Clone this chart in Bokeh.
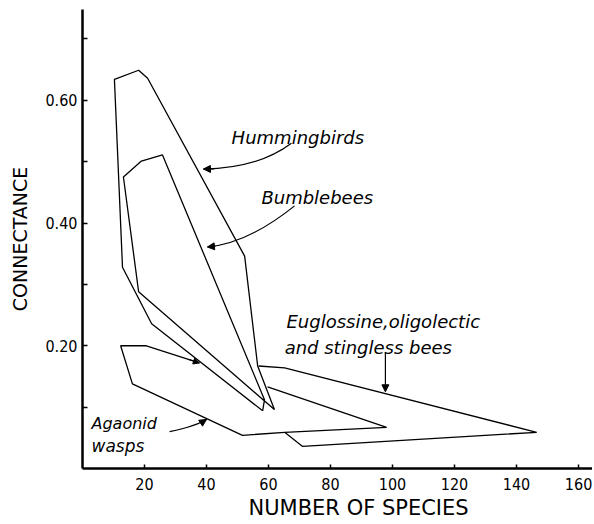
from bokeh.plotting import figure
from bokeh.models import Range1d, FixedTicker, Label, Arrow, NormalHead, PrintfTickFormatter, Title
from bokeh.embed import file_html
from bokeh.resources import INLINE

# ---- data ----
hum_x = [58.1, 22.3, 12.9, 10.3, 18.1, 21.0, 52.3, 56.5, 61.9]
hum_y = [0.094, 0.236, 0.328, 0.634, 0.649, 0.636, 0.346, 0.167, 0.096]
bee_x = [61.9, 18.1, 13.2, 19.0, 25.8, 58.7, 58.1]
bee_y = [0.096, 0.288, 0.475, 0.501, 0.511, 0.112, 0.094]
aga_x = [37.7, 20.6, 12.3, 16.1, 51.6, 65.2, 98.1, 59.7]
aga_y = [0.172, 0.200, 0.200, 0.138, 0.054, 0.059, 0.067, 0.133]
eug_x = [56.8, 65.2, 146.5, 71.0, 65.2]
eug_y = [0.167, 0.164, 0.059, 0.036, 0.059]

x_ticks = [20, 40, 60, 80, 100, 120, 140, 160]
y_major = [0.2, 0.4, 0.6]
y_minor = [0.1, 0.3, 0.5, 0.7]

labels = ["Hummingbirds", "Bumblebees", "Euglossine,oligolectic", "and stingless  bees", "Agaonid", "wasps"]
label_x = [48.1, 57.7, 65.8, 65.2, 2.9, 2.9]
label_y = [0.540, 0.442, 0.239, 0.198, 0.073, 0.037]
label_size = ["18px", "18px", "18px", "18px", "16px", "17px"]

# curved pointer arrows: start, control, tip
arr_x0 = [67.4, 68.4, 28.1]
arr_y0 = [0.530, 0.428, 0.060]
arr_cx = [56.5, 53.4, 36.9]
arr_cy = [0.489, 0.367, 0.0699]
arr_x1 = [39.0, 40.3, 40.0]
arr_y1 = [0.488, 0.361, 0.080]
# straight pointer (Euglossine)
eug_arr = (97.7, 0.190, 97.7, 0.125)

TICK_FONT = "'DejaVu Sans Condensed', 'Liberation Sans Narrow', 'DejaVu Sans'"

p = figure(width=592, height=522, output_backend="svg", toolbar_location=None,
           x_range=Range1d(0, 164.5), y_range=Range1d(0, 0.748),
           min_border_left=82, min_border_right=0, min_border_top=9, min_border_bottom=54)
p.outline_line_color = None
p.grid.visible = False
p.background_fill_color = "white"
p.border_fill_color = "white"

for xs, ys in [(hum_x, hum_y), (bee_x, bee_y), (aga_x, aga_y), (eug_x, eug_y)]:
    p.line(xs, ys, line_color="black", line_width=1.3)

# small arrowhead at the open end of the Agaonid upper edge
p.add_layout(Arrow(end=NormalHead(size=6, fill_color="black", line_color="black"),
                   x_start=aga_x[1] + 0.8 * (aga_x[0] - aga_x[1]),
                   y_start=aga_y[1] + 0.8 * (aga_y[0] - aga_y[1]),
                   x_end=aga_x[0], y_end=aga_y[0], line_width=1.2))

# axes
xa = p.xaxis[0]
xa.ticker = FixedTicker(ticks=x_ticks)
xa.axis_line_width = 2.5
xa.major_tick_in = 4
xa.major_tick_out = 0
xa.major_tick_line_width = 1.5
xa.minor_tick_line_color = None
xa.major_label_standoff = 9
xa.major_label_text_font = TICK_FONT
xa.major_label_text_font_size = "16px"
xa.major_label_text_color = "black"

p.add_layout(Title(text="NUMBER OF SPECIES", align="left", offset=166, standoff=2,
                   text_font="DejaVu Sans", text_font_style="normal", text_font_size="21px",
                   text_color="black"), "below")

ya = p.yaxis[0]
ya.ticker = FixedTicker(ticks=y_major, minor_ticks=y_minor)
ya.formatter = PrintfTickFormatter(format="%.2f")
ya.axis_line_width = 2.5
ya.major_tick_in = 5
ya.major_tick_out = 0
ya.minor_tick_in = 5
ya.minor_tick_out = 0
ya.major_tick_line_width = 1.5
ya.minor_tick_line_width = 1.5
ya.major_label_standoff = 5
ya.major_label_text_font = TICK_FONT
ya.major_label_text_font_size = "16px"
ya.major_label_text_color = "black"
ya.axis_label = "CONNECTANCE"
ya.axis_label_text_font = "DejaVu Sans"
ya.axis_label_text_font_style = "normal"
ya.axis_label_text_font_size = "19px"
ya.axis_label_text_color = "black"
ya.axis_label_standoff = 11

for t, lx, ly, fs in zip(labels, label_x, label_y, label_size):
    p.add_layout(Label(x=lx, y=ly, text=t, text_font="DejaVu Sans", text_font_style="italic",
                       text_font_size=fs, text_color="black", text_baseline="alphabetic"))

p.quadratic(x0=arr_x0, y0=arr_y0, x1=arr_x1, y1=arr_y1, cx=arr_cx, cy=arr_cy,
            line_color="black", line_width=1.2)
for x1, y1, cx, cy in zip(arr_x1, arr_y1, arr_cx, arr_cy):
    p.add_layout(Arrow(end=NormalHead(size=7, fill_color="black", line_color="black"),
                       x_start=x1 + 0.2 * (cx - x1), y_start=y1 + 0.2 * (cy - y1),
                       x_end=x1, y_end=y1, line_width=1.2))
p.add_layout(Arrow(end=NormalHead(size=7, fill_color="black", line_color="black"),
                   x_start=eug_arr[0], y_start=eug_arr[1], x_end=eug_arr[2], y_end=eug_arr[3],
                   line_width=1.2))

open("out.html", "w").write(file_html(p, INLINE))
